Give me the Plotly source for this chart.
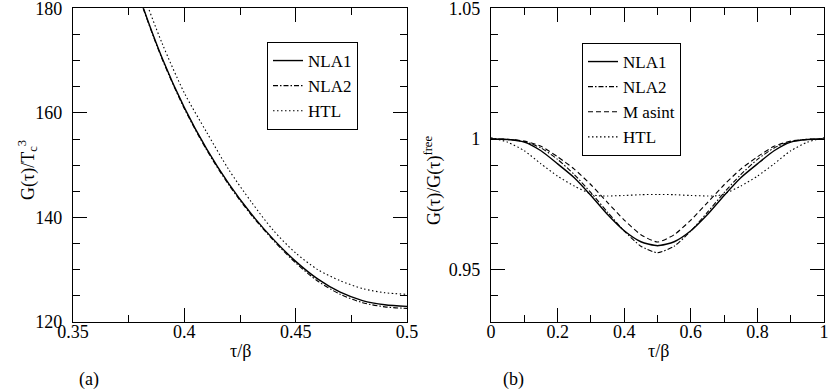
import plotly.graph_objects as go
from plotly.subplots import make_subplots

# panel (a): G(tau)/Tc^3 near the midpoint
tau_a = [0.37, 0.38, 0.39, 0.40, 0.41, 0.42, 0.43, 0.44, 0.45, 0.46, 0.47, 0.48, 0.49, 0.50]
nla1_a = [195.5, 182.0, 170.5, 161.0, 153.1, 146.4, 140.7, 135.8, 131.6, 128.2, 125.7, 124.1, 123.3, 123.0]
nla2_a = [195.3, 181.8, 170.3, 160.8, 152.9, 146.2, 140.5, 135.6, 131.3, 127.8, 125.3, 123.7, 122.9, 122.6]
htl_a = [197.0, 184.5, 173.3, 163.8, 156.3, 149.1, 143.0, 137.5, 133.2, 130.0, 127.9, 126.4, 125.6, 125.3]

# panel (b): G(tau)/G_free(tau)
tau_b = [0.0, 0.05, 0.10, 0.15, 0.20, 0.25, 0.30, 0.35, 0.40, 0.45, 0.50,
         0.55, 0.60, 0.65, 0.70, 0.75, 0.80, 0.85, 0.90, 0.95, 1.0]
nla1_b = [1.0, 0.9998, 0.9988, 0.9955, 0.9905, 0.9852, 0.9784, 0.9711, 0.9649, 0.9607, 0.9592,
          0.9607, 0.9649, 0.9711, 0.9784, 0.9852, 0.9905, 0.9955, 0.9988, 0.9998, 1.0]
nla2_b = [1.0, 0.9998, 0.9990, 0.9966, 0.9922, 0.9864, 0.9795, 0.9720, 0.9648, 0.9590, 0.9565,
          0.9590, 0.9648, 0.9720, 0.9795, 0.9864, 0.9922, 0.9966, 0.9990, 0.9998, 1.0]
masint_b = [1.0, 0.9999, 0.9992, 0.9972, 0.9932, 0.9885, 0.9825, 0.9757, 0.9690, 0.9634, 0.9606,
            0.9634, 0.9690, 0.9757, 0.9825, 0.9885, 0.9932, 0.9972, 0.9992, 0.9999, 1.0]
tau_htl = [0.0, 0.05, 0.10, 0.15, 0.20, 0.25, 0.30, 0.32, 0.35, 0.40, 0.45, 0.50,
           0.55, 0.60, 0.65, 0.68, 0.70, 0.75, 0.80, 0.85, 0.90, 0.95, 1.0]
htl_b = [1.0005, 0.9988, 0.9955, 0.9905, 0.9858, 0.9820, 0.9790, 0.9783, 0.9782, 0.9784, 0.9787, 0.9788,
         0.9787, 0.9784, 0.9782, 0.9783, 0.9790, 0.9820, 0.9858, 0.9905, 0.9955, 0.9988, 1.0005]

FONT = "Liberation Serif, Times New Roman, serif"
styles = {
    "NLA1": dict(color="black", width=1.4, dash="solid"),
    "NLA2": dict(color="black", width=1.1, dash="5px,2px,1.5px,2px"),
    "M asint": dict(color="black", width=1.1, dash="5px,3px"),
    "HTL": dict(color="black", width=1.1, dash="1.5px,2.5px"),
}

fig = make_subplots(rows=1, cols=2)

for name, ys in [("NLA1", nla1_a), ("NLA2", nla2_a), ("HTL", htl_a)]:
    fig.add_trace(go.Scatter(x=tau_a, y=ys, mode="lines", name=name,
                             line=dict(shape="spline", smoothing=0.8, **styles[name]),
                             legend="legend"), row=1, col=1)

for name, xs, ys in [("NLA1", tau_b, nla1_b), ("NLA2", tau_b, nla2_b),
                     ("M asint", tau_b, masint_b), ("HTL", tau_htl, htl_b)]:
    fig.add_trace(go.Scatter(x=xs, y=ys, mode="lines", name=name,
                             line=dict(shape="spline", smoothing=0.6, **styles[name]),
                             legend="legend2"), row=1, col=2)

axis_common = dict(showline=True, linecolor="black", linewidth=1.2, mirror="ticks",
                   ticks="inside", ticklen=14, tickwidth=1, tickcolor="black",
                   showgrid=False, zeroline=False, automargin=False,
                   ticklabeloverflow="allow",
                   tickfont=dict(family=FONT, size=18, color="black"))

# x tick labels sit right under the frame in the original
fig.update_xaxes(axis_common, row=1, col=1, range=[0.35, 0.5], tick0=0.35, dtick=0.05,
                 domain=[0.088, 0.4904], ticklabelstandoff=-7,
                 minor=dict(ticks="inside", ticklen=7, tickcolor="black", dtick=0.025, tick0=0.35))
fig.update_yaxes(axis_common, row=1, col=1, range=[120, 180], dtick=20, ticklabelstandoff=6,
                 domain=[0.1722, 0.9787],
                 minor=dict(ticks="inside", ticklen=7, tickcolor="black", dtick=5))
fig.update_xaxes(axis_common, row=1, col=2, range=[0, 1], dtick=0.2,
                 domain=[0.5916, 0.9928], ticklabelstandoff=-7,
                 minor=dict(ticks="inside", ticklen=7, tickcolor="black", dtick=0.1))
fig.update_yaxes(axis_common, row=1, col=2, range=[0.93, 1.05], dtick=0.05, ticklabelstandoff=6,
                 domain=[0.1722, 0.9787],
                 minor=dict(ticks="inside", ticklen=7, tickcolor="black", dtick=0.01))

legend_common = dict(xanchor="left", yanchor="top", bgcolor="white",
                     bordercolor="black", borderwidth=1, itemwidth=30,
                     font=dict(family=FONT, size=17, color="black"),
                     tracegroupgap=0)

notes = [
    dict(text="τ/β", x=240 / 830, y=1 - 351 / 389),
    dict(text="τ/β", x=658 / 830, y=1 - 351 / 389),
    dict(text="(a)", x=89 / 830, y=1 - 379 / 389),
    dict(text="(b)", x=513 / 830, y=1 - 379 / 389),
    dict(text="G(τ)/T<sub>c</sub><sup>3</sup>", x=27 / 830, y=1 - 170 / 389, textangle=-90),
    dict(text="G(τ)/G(τ)<sup>free</sup>", x=433 / 830, y=1 - 181 / 389, textangle=-90),
]
annotations = [dict(xref="paper", yref="paper", showarrow=False, xanchor="center", yanchor="middle",
                    font=dict(family=FONT, size=18, color="black"), **n) for n in notes]

fig.update_layout(
    template="none",
    width=830, height=389,
    margin=dict(l=0, r=0, t=0, b=0),
    plot_bgcolor="white", paper_bgcolor="white",
    font=dict(family=FONT, size=18, color="black"),
    legend=dict(x=267 / 830, y=1 - 42 / 389, **legend_common),
    legend2=dict(x=582 / 830, y=1 - 43 / 389, **legend_common),
    annotations=annotations,
)

# drop the browser's default 8px page margin so the figure sits at the window origin
fig.write_html("out.html", config={"displayModeBar": False},
               post_script="document.body.style.margin = '0';")
